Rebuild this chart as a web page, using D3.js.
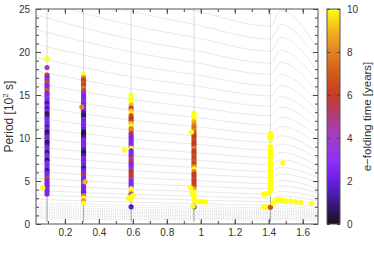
<!DOCTYPE html>
<html><head><meta charset="utf-8">
<script src="https://cdn.jsdelivr.net/npm/d3@7"></script>
<style>
body{margin:0;background:#fff;}
text{font-family:"Liberation Sans",Arial,sans-serif;fill:#333;}
</style></head><body>
<svg id="chart" width="374" height="262"></svg>
<script>
// vertical mode lines (x positions)
const modeX = [0.095, 0.31, 0.59, 0.96, 1.41];

// unstable modes: [period (10^2 s), e-folding time (yr)]
const col1 = [[19.2,10],[18.2,4],[17.3,6],[17.0,2.5],[16.7,3],[16.4,6.5],[16.1,2.5],[15.8,2.5],[15.5,7],[15.2,2.5],
  [14.9,2.5],[14.6,3],[14.3,2.5],[14.0,1],[13.7,2.5],[13.4,1.2],[13.1,2.5],[12.8,0.5],[12.5,1],[12.2,2.5],
  [11.9,2.5],[11.6,2.5],[11.3,1.5],[11.0,2.5],[10.7,0.5],[10.4,1],[10.1,2.5],[9.8,2.5],[9.5,0.5],[9.2,1],
  [8.9,2.5],[8.6,2.5],[8.3,0.8],[8.0,2.5],[7.7,2.5],[7.4,0.5],[7.1,2.5],[6.8,2.5],[6.5,2.5],[6.2,1],
  [5.9,2.5],[5.6,2.5],[5.3,5.5],[5.0,2.5],[4.7,2.5],[4.4,2.5],[4.1,2.5],[3.8,2.5],[3.5,2.5]];
const col2 = [[17.4,10],[17.0,8],[16.7,6],[16.4,7],[16.1,6],[15.8,8],[15.5,6.5],[15.2,3],[14.9,2.5],[14.6,2.5],
  [14.3,3],[14.0,2.5],[13.7,2.5],[13.4,2.5],[13.1,2],[12.8,1],[12.5,0.5],[12.2,2.5],[11.9,2.5],[11.6,2.5],
  [11.3,2.5],[11.0,2],[10.7,0.5],[10.4,0.3],[10.1,1],[9.8,2.5],[9.5,2.5],[9.2,2.5],[8.9,2.5],[8.6,1.5],
  [8.3,0.5],[8.0,1],[7.7,2.5],[7.4,2.5],[7.1,2.5],[6.8,2.5],[6.5,1],[6.2,2.5],[5.9,2.5],[5.6,6],
  [5.3,2.5],[5.0,2.5],[4.7,7],[4.4,2.5],[4.1,2.5],[3.8,2.5],[3.6,2],[3.3,8],[3.0,10],[2.7,8.5],[2.4,10]];
const col3 = [[15.0,10],[14.7,10],[14.4,10],[14.1,10],[13.8,9],[13.45,6],[13.15,9],[12.9,10],[12.6,7],[12.3,6],
  [12.0,6],[11.7,9],[11.4,10],[11.1,8],[10.8,8],[10.5,6],[10.2,2.5],[9.9,2.5],[9.6,2.5],[9.3,2.5],
  [9.0,3],[8.8,10],[8.5,2.5],[8.2,2.5],[7.9,2.5],[7.6,5],[7.3,6],[7.0,2.5],[6.7,2.5],[6.4,3],
  [6.1,6],[5.8,6],[5.5,6],[5.2,4],[4.9,2.5],[4.6,2.5],[4.3,3],[4.1,10],[3.8,10],[3.6,9],
  [3.4,2.5],[3.15,10],[2.9,10],[2.0,1.5]];
const col4 = [[12.9,10],[12.6,10],[12.3,10],[11.9,9],[11.5,8],[11.2,7.5],[10.9,8],[10.6,7],[10.3,6],[10.0,6],
  [9.7,6.5],[9.4,6],[9.1,6],[8.8,8],[8.5,6],[8.2,6],[7.9,6.5],[7.6,6],[7.3,7],[7.0,6],
  [6.7,8],[6.4,10],[6.1,8],[5.8,6],[5.5,6],[5.2,6.5],[4.9,6],[4.6,6],[4.3,7],[4.0,9],
  [3.7,10],[3.4,10],[3.1,10],[2.8,10],[2.0,1.5]];
const col5 = [[10.5,10],[10.2,10],[9.9,10],[9.0,10],[8.7,10],[8.4,10],[8.1,10],[7.8,10],[7.5,10],[7.2,10],
  [6.9,10],[6.6,10],[6.3,10],[6.0,10],[5.7,10],[5.4,10],[5.1,10],[4.8,10],[4.5,10],[4.2,10],[3.9,10]];
// off-line modes: [x, period, e-folding time]
const offModes = [[0.07,4.2,10],[0.30,13.6,8],[0.32,4.9,9],[0.55,8.6,10],[0.60,3.3,10],[0.575,3.0,10],
  [0.945,10.7,10],[0.94,4.2,10],[0.95,3.6,10],[0.955,2.05,10],[0.98,2.65,10],[0.995,2.6,10],[1.01,2.6,10],[1.03,2.55,10],
  [1.37,3.45,10],[1.385,3.5,10],[1.40,3.6,10],[1.37,2.0,10],[1.385,2.0,10],[1.40,2.0,10],[1.41,1.95,6.5],
  [1.425,2.4,10],[1.435,2.65,10],[1.45,2.8,10],[1.465,2.8,10],[1.48,2.75,10],[1.50,2.7,10],[1.53,2.65,10],
  [1.56,2.6,10],[1.59,2.5,10],[1.65,2.4,10],[1.483,7.1,10]];

// colour bar
const tauStops = [0, 1, 2, 3, 4, 5, 6, 7, 8, 9, 10];
const tauColors = ["#1c1018","#3c1888","#6a1ee8","#9030f4","#a23ccc","#b23c7c","#c23c28","#d25a18","#e28220","#f2b420","#ffff10"];

// background mode tracks: level at x = 1.41 and relative shape along x
const trackLevels = [0.45,0.6,0.75,0.9,1.05,1.2,1.35,1.5,1.7,1.9,2.2,2.6,3.0,3.5,4.1,4.7,5.4,6.1,6.9,7.7,
  8.6,9.5,10.5,11.5,12.6,13.7,14.9,16.1,17.4,18.7,20.1,21.5,23.0];
const shapeX = [0.03, 0.31, 0.59, 0.96, 1.41, 1.47, 1.69];
const shapeF = [1.30, 1.22, 1.15, 1.08, 1.0, 1.08, 0.88];

const xTicks = [0.2, 0.4, 0.6, 0.8, 1, 1.2, 1.4, 1.6];
const yTicks = [0, 5, 10, 15, 20, 25];
const cTicks = [0, 2, 4, 6, 8, 10];

const svg = d3.select("#chart");
const L = 36, R = 318, T = 9, B = 224;
const x = d3.scaleLinear().domain([0.03, 1.69]).range([L, R]);
const y = d3.scaleLinear().domain([0, 25]).range([B, T]);
const color = d3.scaleLinear().domain(tauStops).range(tauColors).clamp(true);

svg.append("clipPath").attr("id", "clip")
  .append("rect").attr("x", L).attr("y", T).attr("width", R - L).attr("height", B - T);
const plot = svg.append("g").attr("clip-path", "url(#clip)");

// background tracks
const line = d3.line().x(d => x(d[0])).y(d => y(d[1])).curve(d3.curveMonotoneX);
plot.append("g").selectAll("path")
  .data(trackLevels)
  .enter().append("path")
  .attr("d", lv => line(shapeX.map((sx, i) => [sx, lv * shapeF[i]])))
  .attr("fill", "none")
  .attr("stroke", lv => lv < 2 ? "#c4c4c4" : "#dadada")
  .attr("stroke-width", 0.6)
  .attr("stroke-dasharray", lv => lv < 2 ? "1,1.2" : null);

// vertical mode lines
plot.append("g").selectAll("line")
  .data(modeX)
  .enter().append("line")
  .attr("x1", d => x(d)).attr("x2", d => x(d))
  .attr("y1", y(0.3)).attr("y2", y(25))
  .attr("stroke", "#b4b4b4").attr("stroke-width", 1)
  .attr("stroke-dasharray", "1,1");
plot.append("g").selectAll("line")
  .data(modeX)
  .enter().append("line")
  .attr("x1", d => x(d)).attr("x2", d => x(d))
  .attr("y1", y(0.3)).attr("y2", y(3.2))
  .attr("stroke", "#7a7a7a").attr("stroke-width", 1)
  .attr("stroke-dasharray", "1,1");

// unstable modes
const pts = [];
[col1, col2, col3, col4, col5].forEach((c, i) => c.forEach(d => pts.push([modeX[i], d[0], d[1]])));
offModes.forEach(d => pts.push(d));
plot.append("g").selectAll("circle")
  .data(pts)
  .enter().append("circle")
  .attr("cx", d => x(d[0]))
  .attr("cy", d => y(d[1]))
  .attr("r", 2.6)
  .attr("fill", d => color(d[2]));

// axes
function styleAxis(g) {
  g.selectAll("path").remove();
  g.selectAll("line").attr("stroke", "#444");
  g.selectAll("text").style("font-size", "10px").attr("fill", "#333");
}
const xMinor = d3.range(1, 17).map(i => i / 10);
const yMinor = d3.range(0, 26);
svg.append("g").attr("transform", `translate(0,${B})`)
  .call(d3.axisBottom(x).tickValues(xMinor).tickSize(-3).tickFormat("")).call(styleAxis);
svg.append("g").attr("transform", `translate(0,${B})`)
  .call(d3.axisBottom(x).tickValues(xTicks).tickSize(-5).tickPadding(5).tickFormat(d => String(d))).call(styleAxis);
svg.append("g").attr("transform", `translate(0,${T})`)
  .call(d3.axisTop(x).tickValues(xMinor).tickSize(-3).tickFormat("")).call(styleAxis);
svg.append("g").attr("transform", `translate(0,${T})`)
  .call(d3.axisTop(x).tickValues(xTicks).tickSize(-5).tickFormat("")).call(styleAxis);
svg.append("g").attr("transform", `translate(${L},0)`)
  .call(d3.axisLeft(y).tickValues(yMinor).tickSize(-3).tickFormat("")).call(styleAxis);
svg.append("g").attr("transform", `translate(${L},0)`)
  .call(d3.axisLeft(y).tickValues(yTicks).tickSize(-5).tickPadding(6)).call(styleAxis);
svg.append("g").attr("transform", `translate(${R},0)`)
  .call(d3.axisRight(y).tickValues(yMinor).tickSize(-3).tickFormat("")).call(styleAxis);
svg.append("g").attr("transform", `translate(${R},0)`)
  .call(d3.axisRight(y).tickValues(yTicks).tickSize(-5).tickFormat("")).call(styleAxis);

svg.append("rect").attr("x", L).attr("y", T).attr("width", R - L).attr("height", B - T)
  .attr("fill", "none").attr("stroke", "#555").attr("stroke-width", 1);

svg.append("text")
  .attr("transform", `translate(13,${(T + B) / 2}) rotate(-90)`)
  .attr("text-anchor", "middle")
  .style("font-size", "12px")
  .call(t => {
    t.append("tspan").text("Period [10");
    t.append("tspan").attr("dy", -5).style("font-size", "8px").text("2");
    t.append("tspan").attr("dy", 5).text(" s]");
  });

// colour bar
const CL = 327, CR = 340;
const grad = svg.append("defs").append("linearGradient")
  .attr("id", "cbar").attr("x1", 0).attr("y1", 1).attr("x2", 0).attr("y2", 0);
grad.selectAll("stop").data(tauStops).enter().append("stop")
  .attr("offset", d => d / 10).attr("stop-color", d => color(d));
svg.append("rect").attr("x", CL).attr("y", T).attr("width", CR - CL).attr("height", B - T)
  .attr("fill", "url(#cbar)").attr("stroke", "#555").attr("stroke-width", 1);
const cy = d3.scaleLinear().domain([0, 10]).range([B, T]);
svg.append("g").attr("transform", `translate(${CR},0)`)
  .call(d3.axisRight(cy).tickValues(cTicks).tickSize(-3).tickPadding(7)).call(styleAxis);
svg.append("g").attr("transform", `translate(${CL},0)`)
  .call(d3.axisLeft(cy).tickValues(cTicks).tickSize(-3).tickFormat("")).call(styleAxis);
svg.append("text")
  .attr("transform", `translate(367,${(T + B) / 2}) rotate(-90)`)
  .attr("text-anchor", "middle")
  .attr("dy", "0.35em")
  .style("font-size", "11.5px")
  .text("e\u2212folding time [years]");
</script>
</body></html>
